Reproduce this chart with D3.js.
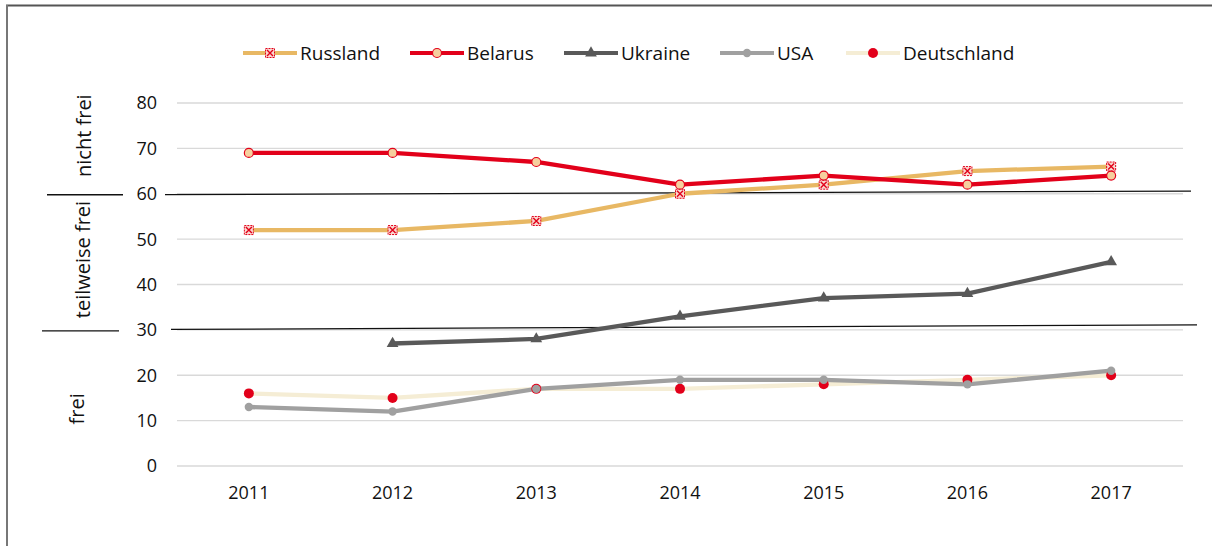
<!DOCTYPE html>
<html><head><meta charset="utf-8">
<script src="https://cdn.jsdelivr.net/npm/d3@7"></script>
<style>html,body{margin:0;padding:0;background:#fff;}svg{display:block;font-family:"Open Sans",sans-serif;}</style>
</head><body><svg id="c" width="1212" height="546"></svg>
<script>
const years = ["2011","2012","2013","2014","2015","2016","2017"];
const russland = [52,52,54,60,62,65,66];
const belarus = [69,69,67,62,64,62,64];
const ukraine = [null,27,28,33,37,38,45];
const usa = [13,12,17,19,19,18,21];
const deutschland = [16,15,17,17,18,19,20];
const yTicks = [0,10,20,30,40,50,60,70,80];
const zoneLabels = [{t:"nicht frei",c:72.8,dx:84},{t:"teilweise frei",c:45.5,dx:83},{t:"frei",c:12.6,dx:77}];

const series = [
  {name:"Russland", values:russland, color:"#E8B864", marker:"xsq"},
  {name:"Belarus", values:belarus, color:"#E2001A", marker:"ring"},
  {name:"Ukraine", values:ukraine, color:"#595959", marker:"tri"},
  {name:"USA", values:usa, color:"#A0A0A0", marker:"dot"},
  {name:"Deutschland", values:deutschland, color:"#F5EDD5", marker:"reddot"}
];

const svg = d3.select("#c");
const x = d3.scalePoint().domain(years).range([177,1183]).padding(0.5);
const y = d3.scaleLinear().domain([0,80]).range([466,103]);

// frame
svg.append("line").attr("x1",6).attr("x2",1212).attr("y1",5.5).attr("y2",5.5).attr("stroke","#555").attr("stroke-width",2);
svg.append("line").attr("x1",7).attr("x2",7).attr("y1",5).attr("y2",546).attr("stroke","#777").attr("stroke-width",2);

// grid
svg.append("g").selectAll("line").data(yTicks).join("line")
  .attr("x1",177).attr("x2",1183).attr("y1",d=>y(d)).attr("y2",d=>y(d))
  .attr("stroke","#d9d9d9").attr("stroke-width",1.3);

// y labels
svg.append("g").selectAll("text").data(yTicks).join("text")
  .attr("x",157).attr("y",d=>y(d)).attr("dy","0.36em").attr("text-anchor","end")
  .attr("font-size",18).attr("fill","#111").text(d=>d);

// x labels
svg.append("g").selectAll("text").data(years).join("text")
  .attr("x",d=>x(d)).attr("y",493).attr("dy","0.36em").attr("text-anchor","middle")
  .attr("font-size",18).attr("fill","#111").text(d=>d);

// threshold lines
function thr(v, l1, l2, r1, r2, vl, vr){
  svg.append("line").attr("x1",l1).attr("x2",l2).attr("y1",y(v)+1).attr("y2",y(v)+1).attr("stroke","#111").attr("stroke-width",1.3);
  svg.append("line").attr("x1",r1).attr("x2",r2).attr("y1",y(vl)).attr("y2",y(vr)).attr("stroke","#111").attr("stroke-width",1.3);
}
thr(60,47,123,165,1191,59.8,60.6);
thr(30,42,119,171,1197,30.1,31.1);

// zone labels
svg.append("g").selectAll("text").data(zoneLabels).join("text")
  .attr("transform",d=>`translate(${d.dx},${y(d.c)}) rotate(-90)`)
  .attr("text-anchor","middle").attr("dy","0.36em").attr("font-size",20).attr("fill","#111").text(d=>d.t);

// lines
const line = d3.line().defined(d=>d.v!=null).x(d=>x(d.k)).y(d=>y(d.v));
function drawMarker(g, m, cx, cy){
  if(m==="xsq"){
    g.append("rect").attr("x",cx-4.5).attr("y",cy-4.5).attr("width",9).attr("height",9).attr("fill","#F9D7CF").attr("stroke","#E2001A").attr("stroke-width",1).attr("stroke-dasharray","2,1");
    g.append("path").attr("d",`M${cx-3},${cy-3}L${cx+3},${cy+3}M${cx+3},${cy-3}L${cx-3},${cy+3}`).attr("stroke","#E2001A").attr("stroke-width",1.4);
  } else if(m==="ring"){
    g.append("circle").attr("cx",cx).attr("cy",cy).attr("r",4.5).attr("fill","#F6CF9E").attr("stroke","#E2001A").attr("stroke-width",1.2);
  } else if(m==="tri"){
    g.append("path").attr("d",d3.symbol(d3.symbolTriangle,60)()).attr("transform",`translate(${cx},${cy})`).attr("fill","#595959");
  } else if(m==="dot"){
    g.append("circle").attr("cx",cx).attr("cy",cy).attr("r",4.2).attr("fill","#A0A0A0");
  } else if(m==="reddot"){
    g.append("circle").attr("cx",cx).attr("cy",cy).attr("r",5).attr("fill","#E2001A");
  }
}
const order = ["Deutschland","USA","Ukraine","Russland","Belarus"];
order.forEach(n=>{
  const s = series.find(z=>z.name===n);
  const pts = years.map((k,i)=>({k,v:s.values[i]}));
  const g = svg.append("g");
  g.append("path").datum(pts).attr("d",line).attr("fill","none").attr("stroke",s.color).attr("stroke-width",4.3).attr("stroke-linejoin","round");
});
order.forEach(n=>{
  const s = series.find(z=>z.name===n);
  const g = svg.append("g");
  years.forEach((k,i)=>{ if(s.values[i]!=null) drawMarker(g,s.marker,x(k),y(s.values[i])); });
});

// legend
const legX = [243,410,564,720,846];
const lg = svg.append("g");
series.forEach((s,i)=>{
  const lx = legX[i], ly = 53;
  lg.append("line").attr("x1",lx).attr("x2",lx+54).attr("y1",ly).attr("y2",ly).attr("stroke",s.color).attr("stroke-width",4);
  drawMarker(lg,s.marker,lx+27,ly);
  lg.append("text").attr("x",lx+57).attr("y",ly).attr("dy","0.36em").attr("font-size",19).attr("fill","#111").text(s.name);
});
</script></body></html>
